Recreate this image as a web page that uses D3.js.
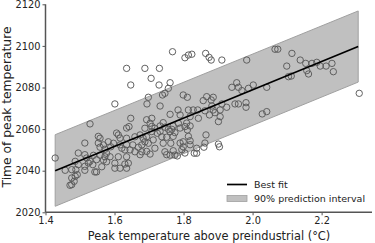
<!DOCTYPE html>
<html>
<head>
<meta charset="utf-8">
<script src="https://cdn.jsdelivr.net/npm/d3@7"></script>
<style>
  body { margin: 0; background: #fff; }
  text { font-family: "DejaVu Sans", sans-serif; fill: #222; }
</style>
</head>
<body>
<div id="chart"></div>
<script>
// scatter values: peak temperature (°C) and year of peak
var peakTemp = [
  1.635,1.647,1.688,1.706,1.730,1.729,1.761,1.768,1.804,1.814,1.864,1.874,1.880,1.911,1.983,2.065,2.073,2.114,2.099,2.138,
  2.154,2.186,2.196,2.213,2.230,2.234,2.157,2.162,2.172,2.104,2.112,2.309,2.002,2.041,1.954,1.940,1.959,1.969,1.988,1.756,
  1.746,1.698,1.799,1.811,1.739,1.601,1.694,1.732,1.784,1.761,1.647,1.708,1.741,1.529,1.824,1.949,1.959,1.981,1.981,1.925,
  1.911,1.886,1.880,1.857,1.882,1.906,1.891,1.828,1.841,1.819,1.843,1.906,2.028,2.041,1.862,1.901,1.867,1.886,1.814,1.790,
  1.703,1.688,1.642,1.819,1.804,1.811,1.785,1.770,1.756,1.766,1.761,1.775,1.746,1.732,1.717,1.708,1.724,1.737,1.693,1.683,
  1.674,1.659,1.635,1.611,1.582,1.597,1.616,1.621,1.568,1.558,1.688,1.698,1.712,1.717,1.741,1.763,1.799,1.819,1.865,1.838,
  1.859,1.831,1.838,1.901,1.904,1.746,1.761,1.775,1.782,1.799,1.659,1.679,1.703,1.679,1.645,1.635,1.640,1.630,1.611,1.601,
  1.601,1.577,1.572,1.568,1.558,1.616,1.635,1.428,1.553,1.558,1.553,1.514,1.495,1.514,1.519,1.529,1.539,1.548,1.524,1.537,
  1.514,1.495,1.486,1.457,1.476,1.488,1.514,1.543,1.548,1.486,1.492,1.476,1.483,1.476,1.471,1.606,1.635,1.674,1.693,1.751,
  1.770,1.790,1.795,1.770,1.751,1.804,1.814,1.616,1.635,1.693,1.708,1.732,1.790,1.809,1.862,1.819,1.563,1.587,1.589,1.572,
  1.577,1.630,1.653,1.669,1.875
];
var peakYear = [
  2089.2,2081.2,2089.2,2084.4,2089.2,2081.2,2082.3,2097.2,2094.3,2095.6,2096.4,2094.5,2093.2,2093.2,2093.2,2098.4,2098.4,2096.4,2090.3,2093.2,
  2091.6,2092.1,2090.3,2090.3,2091.6,2087.6,2088.1,2086.5,2091.6,2085.2,2085.5,2077.2,2081.2,2080.1,2082.3,2080.1,2080.1,2078.5,2079.6,2079.6,
  2077.2,2075.3,2076.4,2075.3,2076.4,2072.1,2072.1,2071.1,2069.2,2067.1,2065.2,2065.2,2063.1,2062.5,2096.0,2072.1,2072.1,2072.7,2070.5,2070.5,
  2072.1,2075.3,2074.0,2073.7,2071.1,2069.2,2067.9,2069.2,2069.2,2066.0,2065.2,2066.0,2067.3,2068.4,2068.8,2063.6,2075.6,2069.2,2069.2,2066.8,
  2062.8,2060.4,2061.2,2061.5,2061.2,2059.6,2062.8,2061.5,2059.9,2059.9,2058.8,2058.3,2060.9,2061.5,2060.4,2058.8,2058.0,2056.3,2056.3,2055.6,
  2057.2,2056.3,2055.6,2057.2,2053.9,2053.2,2052.4,2050.8,2052.4,2055.6,2053.9,2053.2,2054.8,2050.8,2053.2,2053.2,2053.9,2054.4,2057.2,2050.8,
  2051.3,2048.4,2048.4,2052.8,2051.5,2049.1,2047.5,2047.5,2047.1,2051.5,2049.1,2049.1,2048.0,2052.4,2050.0,2046.7,2043.6,2043.2,2046.7,2043.6,
  2041.2,2048.4,2046.7,2045.1,2047.5,2041.2,2041.2,2046.1,2056.5,2051.3,2053.3,2053.3,2048.5,2047.7,2046.1,2044.5,2047.4,2045.3,2043.7,2042.9,
  2042.1,2042.9,2044.5,2040.2,2040.5,2040.5,2040.2,2039.4,2039.4,2037.3,2038.1,2036.5,2034.9,2033.3,2033.0,2058.1,2052.5,2047.7,2049.3,2056.1,
  2056.5,2053.3,2050.1,2049.6,2047.7,2048.5,2056.5,2055.7,2060.5,2064.5,2061.3,2058.9,2060.5,2062.9,2053.3,2052.5,2041.9,2046.7,2051.5,2050.3,
  2044.3,2050.0,2052.4,2051.3,2066.8
];

// best fit line and 90% prediction interval (ends of the band)
var fitTemp = [1.428, 2.306];
var fitYear = [2040.0, 2099.7];
var bandLower = [2022.9, 2082.6];
var bandUpper = [2057.3, 2116.8];

var xTicks = [1.4, 1.6, 1.8, 2.0, 2.2];
var yTicks = [2020, 2040, 2060, 2080, 2100, 2120];

var svgWidth = 375;
var svgHeight = 243;

var svg = d3.select("#chart")
  .append("svg")
  .attr("width", svgWidth)
  .attr("height", svgHeight);

var xScale = d3.scaleLinear()
  .domain([1.4, 2.346])
  .range([45.5, 372]);

var yScale = d3.scaleLinear()
  .domain([2020, 2120])
  .range([212.3, 4.3]);

// prediction band
var band = fitTemp.map(function(t, i) {
  return { x: t, lo: bandLower[i], hi: bandUpper[i] };
});
svg.append("path")
  .datum(band)
  .attr("fill", "#c0c0c0")
  .attr("stroke", "#a0a0a0")
  .attr("stroke-width", 1)
  .attr("d", d3.area()
    .x(d => xScale(d.x))
    .y0(d => yScale(d.lo))
    .y1(d => yScale(d.hi)));

// scatter points
svg.append("g")
  .selectAll("circle")
  .data(peakTemp)
  .enter()
  .append("circle")
  .attr("cx", d => xScale(d))
  .attr("cy", (d, i) => yScale(peakYear[i]))
  .attr("r", 3.2)
  .attr("fill", "none")
  .attr("stroke", "#5a5a5a")
  .attr("stroke-width", 0.95);

// best fit
svg.append("path")
  .datum(fitTemp.map((t, i) => [t, fitYear[i]]))
  .attr("fill", "none")
  .attr("stroke", "#000")
  .attr("stroke-width", 1.7)
  .attr("d", d3.line()
    .x(d => xScale(d[0]))
    .y(d => yScale(d[1])));

// axes
var xAxis = svg.append("g")
  .attr("transform", "translate(0," + yScale(2020) + ")")
  .call(d3.axisBottom(xScale).tickValues(xTicks).tickFormat(d3.format(".1f")).tickSize(3).tickPadding(2));

var yAxis = svg.append("g")
  .attr("transform", "translate(" + xScale(1.4) + ",0)")
  .call(d3.axisLeft(yScale).tickValues(yTicks).tickFormat(d3.format("d")).tickSize(3).tickPadding(2));

[xAxis, yAxis].forEach(function(ax) {
  ax.select(".domain").attr("stroke", "#555").attr("stroke-width", 1.5);
  ax.selectAll(".tick line").attr("stroke", "#555");
  ax.selectAll(".tick text")
    .attr("fill", "#222")
    .style("font-family", "DejaVu Sans")
    .style("font-size", "9.8px");
});
xAxis.select(".domain").attr("d", "M" + xScale(1.4) + ",0H372");
yAxis.select(".domain").attr("d", "M0," + yScale(2020) + "V" + yScale(2120));

// axis labels
svg.append("text")
  .attr("x", 209)
  .attr("y", 239.5)
  .attr("text-anchor", "middle")
  .style("font-size", "11.4px")
  .text("Peak temperature above preindustrial (°C)");

svg.append("text")
  .attr("transform", "translate(11," + 107 + ") rotate(-90)")
  .attr("text-anchor", "middle")
  .style("font-size", "12.3px")
  .text("Time of peak temperature");

// legend
var legend = svg.append("g");
legend.append("line")
  .attr("x1", 227).attr("x2", 247)
  .attr("y1", 184.5).attr("y2", 184.5)
  .attr("stroke", "#000")
  .attr("stroke-width", 1.7);
legend.append("rect")
  .attr("x", 227).attr("y", 195.5)
  .attr("width", 20).attr("height", 6)
  .attr("fill", "#c0c0c0")
  .attr("stroke", "#a0a0a0")
  .attr("stroke-width", 0.8);
legend.append("text")
  .attr("x", 254).attr("y", 188)
  .style("font-size", "9.5px")
  .text("Best fit");
legend.append("text")
  .attr("x", 254).attr("y", 202)
  .style("font-size", "9.5px")
  .text("90% prediction interval");
</script>
</body>
</html>
